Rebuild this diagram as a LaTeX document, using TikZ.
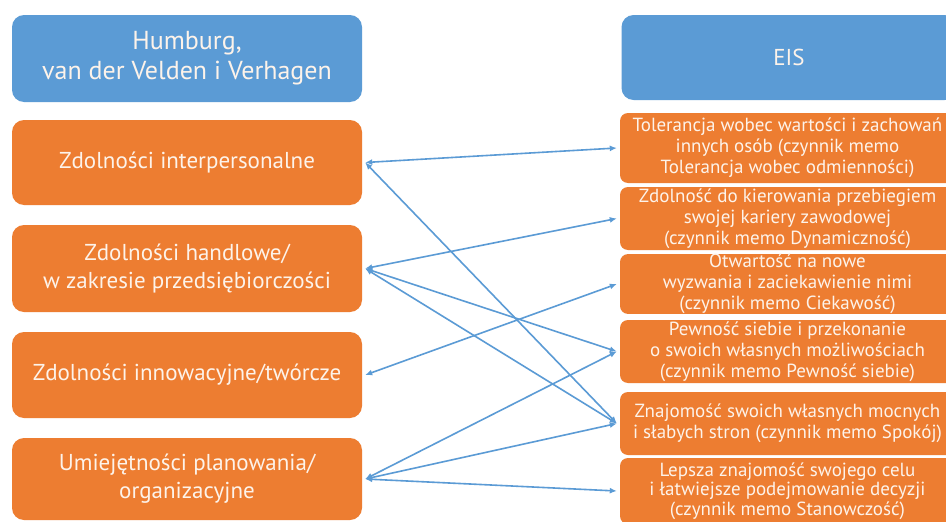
\documentclass[tikz,border=0pt]{standalone}
\usepackage{fontspec}
\setmainfont{PT Sans}
\usetikzlibrary{arrows.meta}
\definecolor{hblue}{HTML}{5B9BD5}
\definecolor{horange}{HTML}{ED7D31}
\definecolor{htext}{HTML}{FDF3EA}
\tikzset{
  lbox/.style={fill=horange, rounded corners=12pt, minimum width=350pt, text=htext,
    align=center, inner sep=0pt, font=\fontsize{23}{28}\selectfont},
  rbox/.style={fill=horange, rounded corners=8pt, minimum width=335pt, text=htext,
    align=center, inner sep=0pt, font=\fontsize{19}{21}\selectfont},
  lhead/.style={fill=hblue, rounded corners=12pt, minimum width=350pt, text=htext,
    align=center, inner sep=0pt, font=\fontsize{26}{30}\selectfont},
  rhead/.style={fill=hblue, rounded corners=12pt, minimum width=335pt, text=htext,
    align=center, inner sep=0pt, font=\fontsize{23}{30}\selectfont},
  link/.style={hblue, line width=1.6pt, {Latex[length=7pt,width=6pt]}-{Latex[length=7pt,width=6pt]}}
}
\begin{document}
\begin{tikzpicture}[x=1pt,y=-1pt]
\useasboundingbox (0,0) rectangle (946,522);
\clip (0,0) rectangle (946,522);
\fill[white] (0,0) rectangle (946,522);
% left column
\node[lhead, minimum height=87pt] (HL) at (187,58.5) {Humburg,\\van der Velden i Verhagen};
\node[lbox, minimum height=85pt] (L1) at (187,162.5) {Zdolności interpersonalne};
\node[lbox, minimum height=87pt] (L2) at (187,268.5) {Zdolności handlowe/\\w zakresie przedsiębiorczości};
\node[lbox, minimum height=86pt] (L3) at (187,375) {Zdolności innowacyjne/twórcze};
\node[lbox, minimum height=82pt] (L4) at (187,479) {Umiejętności planowania/\\organizacyjne};
% right column
\node[rhead, minimum height=85pt] (HR) at (789,57.5) {EIS};
\node[rbox, minimum height=70pt] (R1) at (787.5,148) {Tolerancja wobec wartości i zachowań\\innych osób (czynnik memo\\Tolerancja wobec odmienności)};
\node[rbox, minimum height=63pt] (R2) at (787.5,218.5) {Zdolność do kierowania przebiegiem\\swojej kariery zawodowej\\(czynnik memo Dynamiczność)};
\node[rbox, minimum height=58pt] (R3) at (787.5,284) {Otwartość na nowe\\wyzwania i zaciekawienie nimi\\(czynnik memo Ciekawość)};
\node[rbox, minimum height=63pt] (R4) at (787.5,351.5) {Pewność siebie i przekonanie\\o swoich własnych możliwościach\\(czynnik memo Pewność siebie)};
\node[rbox, minimum height=63pt] (R5) at (787.5,423.5) {Znajomość swoich własnych mocnych\\i słabych stron (czynnik memo Spokój)};
\node[rbox, minimum height=66pt, font=\fontsize{19}{19.5}\selectfont] (R6) at (787.5,491) {Lepsza znajomość swojego celu\\i łatwiejsze podejmowanie decyzji\\(czynnik memo Stanowczość)};
% connectors
\draw[link] ([xshift=3pt]L1.east) -- ([xshift=-3pt]R1.west);
\draw[link] ([xshift=3pt]L1.east) -- ([xshift=-3pt]R5.west);
\draw[link] ([xshift=3pt]L2.east) -- ([xshift=-3pt]R2.west);
\draw[link] ([xshift=3pt]L2.east) -- ([xshift=-3pt]R4.west);
\draw[link] ([xshift=3pt]L2.east) -- ([xshift=-3pt]R5.west);
\draw[link] ([xshift=3pt]L3.east) -- ([xshift=-3pt]R3.west);
\draw[link] ([xshift=3pt]L4.east) -- ([xshift=-3pt]R4.west);
\draw[link] ([xshift=3pt]L4.east) -- ([xshift=-3pt]R5.west);
\draw[link] ([xshift=3pt]L4.east) -- ([xshift=-3pt]R6.west);
\end{tikzpicture}
\end{document}
